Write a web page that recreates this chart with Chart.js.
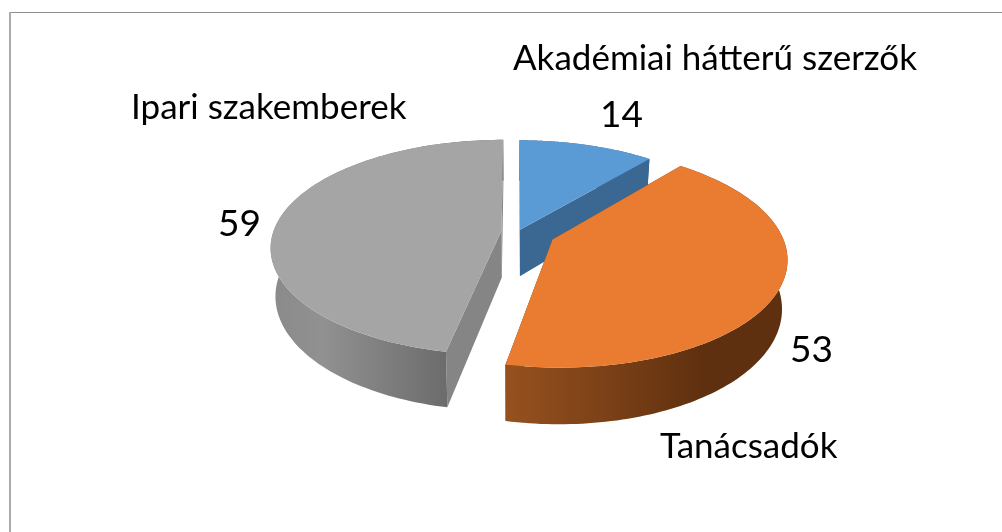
<!DOCTYPE html>
<html>
<head>
<meta charset="utf-8">
<script src="https://cdn.jsdelivr.net/npm/chart.js@4"></script>
<style>
    html, body { margin: 0; padding: 0; background: #fff; }
    #wrap { position: relative; width: 1002px; height: 532px; }
</style>
</head>
<body>
<div id="wrap"><canvas id="pie3d" width="1002" height="532"></canvas></div>
<script>
const categories = ['Akadémiai hátterű szerzők', 'Tanácsadók', 'Ipari szakemberek'];
const values = [14, 53, 59];

// exploded slices, as a share of the radius
const explode = [0.054, 0.186, 0.054];
const sliceShift = [[1, 4], [-1, 0], [-1, 0]];
const topColors = ['#5B9BD5', '#E97C30', '#A5A5A5'];
const faceColors = ['#3A6893', '#6A3711', '#858585'];
const drawOrder = [0, 2, 1];

// where the labels sit: [name x, name y, value x, value y]
const labelPos = [
    [513, 70, 600, 127],
    [660, 458, 790, 362],
    [131, 119, 218, 236]
];

// fake 3D camera
const CX = 514.8, CY = 231, RADIUS = 228, SQUASH = 0.4605, PERSP = 0.157, DEPTH = 47, TAPER = 0.02;

function project(u, v, z, shift) {
    const p = 1 / (1 - PERSP * v);
    const x = CX + RADIUS * u * p * (1 - TAPER * z / DEPTH);
    const y = CY + (RADIUS * SQUASH * v + z) * p;
    return [x + shift[0], y + shift[1]];
}

function rimGradient(ctx, i) {
    if (i === 1) {
        const g = ctx.createLinearGradient(505, 0, 788, 0);
        g.addColorStop(0, '#96511F');
        g.addColorStop(0.35, '#7C4117');
        g.addColorStop(0.7, '#5F300F');
        g.addColorStop(1, '#5E300F');
        return g;
    }
    if (i === 2) {
        const g = ctx.createLinearGradient(270, 0, 446, 0);
        g.addColorStop(0, '#8A8A8A');
        g.addColorStop(0.3, '#919191');
        g.addColorStop(1, '#6C6C6C');
        return g;
    }
    return faceColors[i];
}

function fillPoly(ctx, pts, color) {
    ctx.beginPath();
    pts.forEach((pt, n) => n ? ctx.lineTo(pt[0], pt[1]) : ctx.moveTo(pt[0], pt[1]));
    ctx.closePath();
    ctx.fillStyle = color;
    ctx.fill();
}

function drawSlice(ctx, arc, i) {
    // angles come from the pie controller
    const start = arc.startAngle, end = arc.endAngle;
    const mid = (start + end) / 2;
    const ox = Math.cos(mid) * explode[i], oy = Math.sin(mid) * explode[i];
    const shift = sliceShift[i];
    const steps = 120;

    const edge = [];
    for (let s = 0; s <= steps; s++) {
        const a = start + (end - start) * s / steps;
        edge.push([ox + Math.cos(a), oy + Math.sin(a)]);
    }
    const apexTop = project(ox, oy, 0, shift), apexLow = project(ox, oy, DEPTH, shift);
    const first = edge[0], last = edge[steps];

    // the two cut faces
    fillPoly(ctx, [apexTop, project(first[0], first[1], 0, shift), project(first[0], first[1], DEPTH, shift), apexLow], faceColors[i]);
    fillPoly(ctx, [apexTop, project(last[0], last[1], 0, shift), project(last[0], last[1], DEPTH, shift), apexLow], faceColors[i]);

    // rim
    const rim = edge.map(e => project(e[0], e[1], 0, shift))
        .concat(edge.slice().reverse().map(e => project(e[0], e[1], DEPTH, shift)));
    fillPoly(ctx, rim, rimGradient(ctx, i));

    // top
    fillPoly(ctx, [apexTop].concat(edge.map(e => project(e[0], e[1], 0, shift))), topColors[i]);
}

const pie3dPlugin = {
    id: 'pie3d',
    beforeDraw(chart) {
        const ctx = chart.ctx;
        ctx.save();
        ctx.fillStyle = '#fff';
        ctx.fillRect(0, 0, chart.width, chart.height);
        ctx.fillStyle = '#8E8E8E';
        ctx.fillRect(9, 12, chart.width - 9, 1);
        ctx.fillStyle = '#ABABAB';
        ctx.fillRect(9, 12, 2, chart.height - 12);
        ctx.restore();
    },
    beforeDatasetDraw(chart) {
        const ctx = chart.ctx;
        const arcs = chart.getDatasetMeta(0).data;
        ctx.save();
        drawOrder.forEach(i => drawSlice(ctx, arcs[i], i));
        ctx.restore();
        return false;
    },
    afterDatasetsDraw(chart) {
        const ctx = chart.ctx;
        ctx.save();
        ctx.fillStyle = '#000';
        ctx.textAlign = 'left';
        ctx.textBaseline = 'alphabetic';
        categories.forEach((name, i) => {
            ctx.font = '35px Lato';
            ctx.fillText(name, labelPos[i][0], labelPos[i][1]);
            ctx.font = '37px Lato';
            ctx.fillText(String(values[i]), labelPos[i][2], labelPos[i][3]);
        });
        ctx.restore();
    }
};

new Chart(document.getElementById('pie3d'), {
    type: 'pie',
    data: {
        labels: categories,
        datasets: [{ data: values, backgroundColor: topColors, borderWidth: 0 }]
    },
    options: {
        responsive: false,
        animation: false,
        plugins: { legend: { display: false }, tooltip: { enabled: false } }
    },
    plugins: [pie3dPlugin]
});
</script>
</body>
</html>
